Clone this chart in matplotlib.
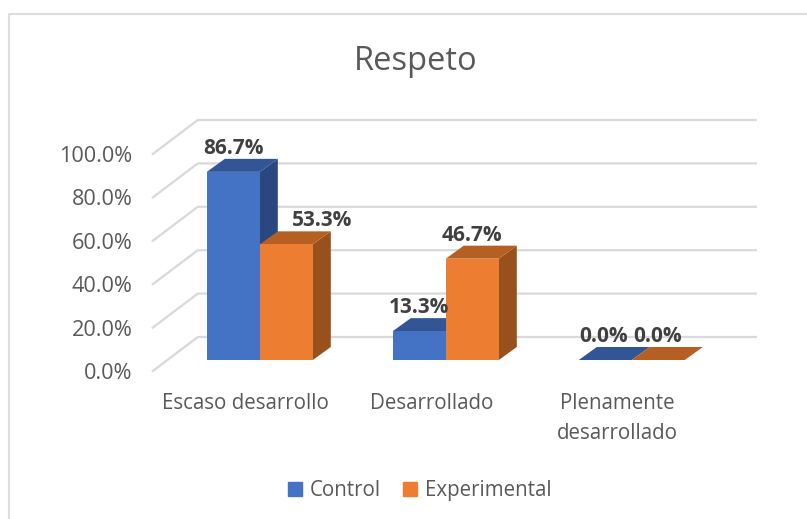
import matplotlib
matplotlib.use('Agg')
import matplotlib.pyplot as plt
from matplotlib.patches import Polygon, Patch

categories = ['Escaso desarrollo', 'Desarrollado', 'Plenamente\ndesarrollado']
control = [86.7, 13.3, 0.0]
experimental = [53.3, 46.7, 0.0]
y_ticks = [0, 20, 40, 60, 80, 100]

W, H = 807, 519
plt.rcParams['font.family'] = ['Open Sans', 'DejaVu Sans']

fig = plt.figure(figsize=(W / 100, H / 100), dpi=100)
# axes = the plane the bar fronts stand on
ax = fig.add_axes([166.8 / W, 1 - 360 / H, 558 / W, 217 / H])
ax.set_xlim(-0.5, 2.5)
ax.set_ylim(0, 100)
ax.axis('off')

px_x = 3 / 558   # data units per pixel
px_y = 100 / 217


def poly(points, color, z):
    ax.add_patch(Polygon(points, closed=True, facecolor=color, edgecolor='none',
                         clip_on=False, zorder=z))


# gridlines with the side wall
for t in y_ticks:
    xs = [-0.5 - 14 * px_x, -0.5 + 31 * px_x, 2.5 + 31 * px_x]
    ys = [t - 11 * px_y, t + 23 * px_y, t + 23 * px_y]
    ax.plot(xs, ys, color='#D9D9D9', lw=1.6, clip_on=False, zorder=1, solid_joinstyle='miter')
    ax.annotate(f'{t:.1f}%', (-0.5, t), xytext=(-34, -11), textcoords='offset pixels',
                ha='right', va='center_baseline', fontsize=15.6, color='#595959', annotation_clip=False)

bar_w = 53 * px_x
dx = 18 * px_x
dy = 13 * px_y


def bar3d(x0, v, front, top, side, z):
    x1 = x0 + bar_w
    poly([(x1, 0), (x1 + dx, dy), (x1 + dx, v + dy), (x1, v)], side, z)
    poly([(x0, v), (x0 + dx, v + dy), (x1 + dx, v + dy), (x1, v)], top, z)
    if v > 0:
        poly([(x0, 0), (x1, 0), (x1, v), (x0, v)], front, z + 0.1)


for i in range(3):
    bar3d(i - bar_w, control[i], '#4472C4', '#325596', '#2A4780', 2 + i)
    bar3d(i, experimental[i], '#ED7D31', '#B55F23', '#98501D', 2.5 + i)

# data labels, the 53.3% one sits off to the right like in the original
label_dx = [[0, 36], [0, 0], [-2, -1]]
for i in range(3):
    for j, vals in enumerate([control, experimental]):
        x = i - bar_w / 2 + j * bar_w
        ax.annotate(f'{vals[i]:.1f}%', (x, vals[i]), xytext=(label_dx[i][j], 26),
                    textcoords='offset pixels', ha='center', va='center_baseline', fontsize=15,
                    fontweight='bold', color='#404040', zorder=10, annotation_clip=False)

# category labels
for i, c in enumerate(categories):
    ax.annotate(c, (i, 0), xytext=(-14, -33), textcoords='offset pixels', ha='center', va='top',
                fontsize=14.8, color='#595959', linespacing=1.55, annotation_clip=False)

fig.text(415.5 / W, 1 - 58 / H, 'Respeto', ha='center', va='center_baseline', fontsize=23.5, color='#595959')

handles = [Patch(color='#4472C4', label='Control'), Patch(color='#ED7D31', label='Experimental')]
fig.legend(handles=handles, loc='center', bbox_to_anchor=(419.5 / W, 1 - 490.5 / H), ncol=2, frameon=False,
           fontsize=14.8, labelcolor='#595959', handlelength=0.7, handleheight=0.7,
           handletextpad=0.35, columnspacing=1.1)

# chart frame, only top and left show in the crop
fig.add_artist(plt.Line2D([9 / W, 9 / W, 1], [0, 1 - 14 / H, 1 - 14 / H], color='#DEDEDE', lw=1.5))

fig.savefig('out.png', dpi=100)
